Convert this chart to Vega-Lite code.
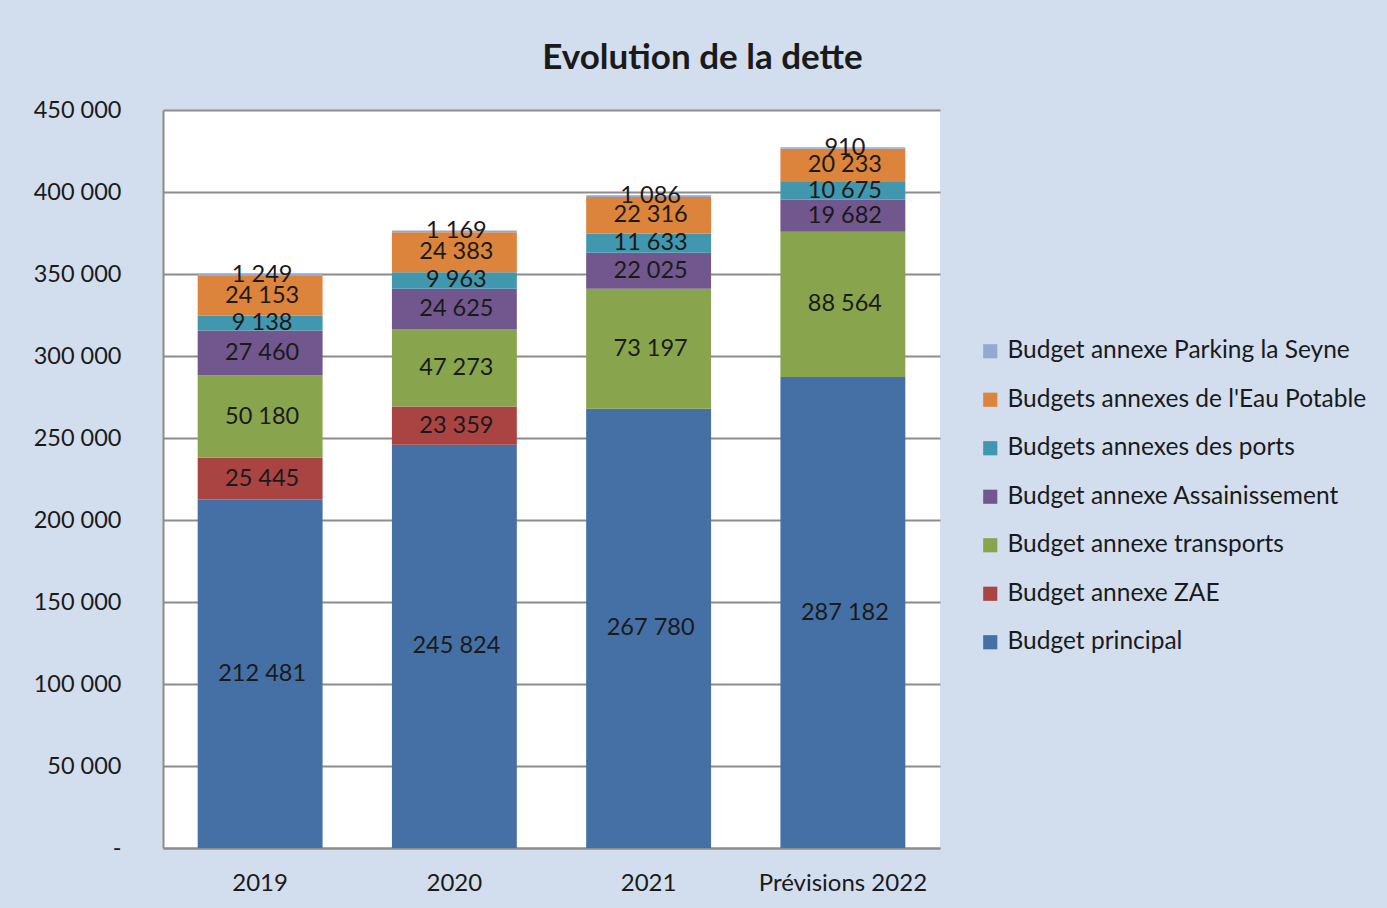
{
  "$schema": "https://vega.github.io/schema/vega-lite/v6.json",
  "width": 777,
  "height": 738,
  "autosize": {"type": "none"},
  "padding": {"left": 163, "top": 110, "right": 447, "bottom": 60},
  "background": "#d2deee",
  "title": {
    "text": "Evolution de la dette",
    "font": "Lato",
    "fontSize": 35,
    "fontWeight": "bold",
    "color": "#1a1a1a",
    "anchor": "middle",
    "dx": 151,
    "offset": 22
  },
  "config": {
    "locale": {"number": {"decimal": ",", "thousands": " ", "grouping": [3], "currency": ["", " €"]}},
    "view": {"stroke": null, "fill": "#ffffff"},
    "font": "Lato",
    "axis": {
      "labelFont": "Lato",
      "labelFontSize": 23.5,
      "labelColor": "#1a1a1a",
      "domainColor": "#8c8c8c",
      "domainWidth": 2,
      "gridColor": "#8c8c8c",
      "gridWidth": 2,
      "ticks": false,
      "title": null
    },
    "legend": {
      "labelFont": "Lato",
      "labelFontSize": 24.5,
      "labelColor": "#1a1a1a",
      "labelLimit": 500
    }
  },
  "data": {
    "values": [
      {"annee": "2019", "budget": "Budget principal", "montant": 212481, "rang": 1},
      {"annee": "2019", "budget": "Budget annexe ZAE", "montant": 25445, "rang": 2},
      {"annee": "2019", "budget": "Budget annexe transports", "montant": 50180, "rang": 3},
      {"annee": "2019", "budget": "Budget annexe Assainissement", "montant": 27460, "rang": 4},
      {"annee": "2019", "budget": "Budgets annexes des ports", "montant": 9138, "rang": 5},
      {"annee": "2019", "budget": "Budgets annexes de l'Eau Potable", "montant": 24153, "rang": 6},
      {"annee": "2019", "budget": "Budget annexe Parking la Seyne", "montant": 1249, "rang": 7},
      {"annee": "2020", "budget": "Budget principal", "montant": 245824, "rang": 1},
      {"annee": "2020", "budget": "Budget annexe ZAE", "montant": 23359, "rang": 2},
      {"annee": "2020", "budget": "Budget annexe transports", "montant": 47273, "rang": 3},
      {"annee": "2020", "budget": "Budget annexe Assainissement", "montant": 24625, "rang": 4},
      {"annee": "2020", "budget": "Budgets annexes des ports", "montant": 9963, "rang": 5},
      {"annee": "2020", "budget": "Budgets annexes de l'Eau Potable", "montant": 24383, "rang": 6},
      {"annee": "2020", "budget": "Budget annexe Parking la Seyne", "montant": 1169, "rang": 7},
      {"annee": "2021", "budget": "Budget principal", "montant": 267780, "rang": 1},
      {"annee": "2021", "budget": "Budget annexe transports", "montant": 73197, "rang": 3},
      {"annee": "2021", "budget": "Budget annexe Assainissement", "montant": 22025, "rang": 4},
      {"annee": "2021", "budget": "Budgets annexes des ports", "montant": 11633, "rang": 5},
      {"annee": "2021", "budget": "Budgets annexes de l'Eau Potable", "montant": 22316, "rang": 6},
      {"annee": "2021", "budget": "Budget annexe Parking la Seyne", "montant": 1086, "rang": 7},
      {"annee": "Prévisions 2022", "budget": "Budget principal", "montant": 287182, "rang": 1},
      {"annee": "Prévisions 2022", "budget": "Budget annexe transports", "montant": 88564, "rang": 3},
      {"annee": "Prévisions 2022", "budget": "Budget annexe Assainissement", "montant": 19682, "rang": 4},
      {"annee": "Prévisions 2022", "budget": "Budgets annexes des ports", "montant": 10675, "rang": 5},
      {"annee": "Prévisions 2022", "budget": "Budgets annexes de l'Eau Potable", "montant": 20233, "rang": 6},
      {"annee": "Prévisions 2022", "budget": "Budget annexe Parking la Seyne", "montant": 910, "rang": 7}
    ]
  },
  "encoding": {
    "x": {
      "field": "annee",
      "type": "nominal",
      "sort": null,
      "scale": {"paddingInner": 0.357, "paddingOuter": 0.1785},
      "axis": {"labelAngle": 0, "labelPadding": 23, "grid": false, "labelFontSize": 24}
    },
    "y": {
      "field": "montant",
      "type": "quantitative",
      "aggregate": "sum",
      "stack": "zero",
      "scale": {"domain": [0, 450000], "nice": false},
      "axis": {
        "values": [0, 50000, 100000, 150000, 200000, 250000, 300000, 350000, 400000, 450000],
        "format": ",d",
        "labelExpr": "datum.value === 0 ? '-\u2003' : datum.label",
        "labelPadding": 42,
        "grid": true
      }
    },
    "order": {"field": "rang", "type": "quantitative", "aggregate": "min"}
  },
  "layer": [
    {
      "mark": {"type": "bar"},
      "encoding": {
        "color": {
          "field": "budget",
          "type": "nominal",
          "scale": {
            "domain": [
              "Budget annexe Parking la Seyne",
              "Budgets annexes de l'Eau Potable",
              "Budgets annexes des ports",
              "Budget annexe Assainissement",
              "Budget annexe transports",
              "Budget annexe ZAE",
              "Budget principal"
            ],
            "range": ["#94a9d0", "#dc833c", "#4197ae", "#71578e", "#88a54d", "#a94442", "#4470a5"]
          },
          "legend": {
            "title": null,
            "orient": "none",
            "legendX": 815,
            "legendY": 229,
            "symbolType": "square",
            "symbolSize": 200,
            "symbolStrokeWidth": 0,
            "rowPadding": 23.5,
            "labelOffset": 5
          }
        }
      }
    },
    {
      "mark": {"type": "text", "font": "Lato", "fontSize": 23.5, "color": "#1a1a1a", "baseline": "middle", "dx": 2},
      "encoding": {
        "y": {
          "field": "montant",
          "type": "quantitative",
          "aggregate": "sum",
          "stack": "zero",
          "bandPosition": 0.5
        },
        "detail": {"field": "budget", "type": "nominal"},
        "text": {"field": "montant", "type": "quantitative", "aggregate": "sum", "format": ",d"}
      }
    }
  ]
}
